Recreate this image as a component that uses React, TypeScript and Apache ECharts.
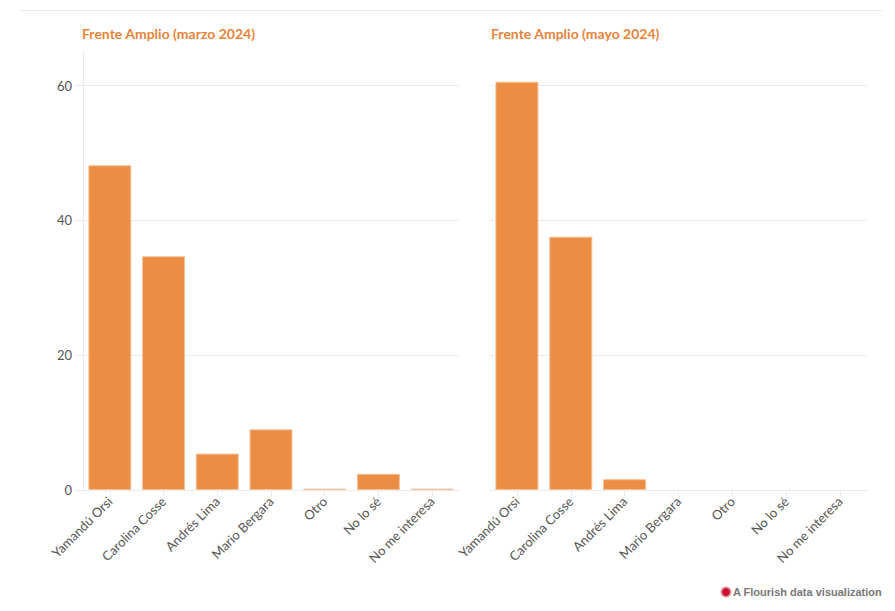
import React, { useEffect, useRef } from "react";
import * as echarts from "echarts";

const categories = ["Yamandú Orsi", "Carolina Cosse", "Andrés Lima", "Mario Bergara", "Otro", "No lo sé", "No me interesa"];
const marzoValues = [48.2, 34.7, 5.4, 9.0, 0.2, 2.4, 0.2];
const mayoValues = [60.6, 37.6, 1.6, 0, 0, 0, 0];
const titles = ["Frente Amplio (marzo 2024)", "Frente Amplio (mayo 2024)"];
const yTicks = [0, 20, 40, 60];

const BAR = "#eb8e43";
const GRID = "#ebebeb";
const FONT = "Lato, 'Noto Sans', sans-serif";

export default function App() {
  const ref = useRef<HTMLDivElement>(null);
  useEffect(() => {
    if (!ref.current) return;
    const chart = echarts.init(ref.current, null, { renderer: "svg" });
    const grids = [
      { left: 83, top: 52, width: 376, height: 438 },
      { left: 490, top: 52, width: 377, height: 438 },
    ];
    const xAxis = grids.map((_, i) => ({
      type: "category",
      gridIndex: i,
      data: categories,
      axisLine: { show: true, lineStyle: { color: GRID, width: 1 } },
      axisTick: { show: true, alignWithLabel: true, length: 6, lineStyle: { color: GRID } },
      axisLabel: { rotate: 45, color: "#555", fontSize: 13, fontFamily: FONT, margin: 9, interval: 0 },
    }));
    const yAxis = grids.map((_, i) => ({
      type: "value",
      gridIndex: i,
      min: 0,
      max: 65,
      interval: 20,
      axisLine: { show: i === 0, lineStyle: { color: GRID, width: 1 } },
      axisTick: { show: i === 0, length: 8, lineStyle: { color: GRID }, customValues: yTicks },
      axisLabel: { show: i === 0, color: "#555", fontSize: 13, fontFamily: FONT, margin: 11, customValues: yTicks },
      splitLine: { show: true, lineStyle: { color: GRID, width: 1 } },
    }));
    const data = [marzoValues, mayoValues];
    chart.setOption({
      animation: false,
      title: titles.map((t, i) => ({
        text: t,
        left: i === 0 ? 82 : 491,
        top: 26,
        padding: 0,
        textStyle: { color: "#e9843a", fontSize: 14, fontWeight: "bold", fontFamily: FONT },
      })),
      grid: grids,
      xAxis,
      yAxis,
      series: data.map((d, i) => ({
        type: "bar",
        xAxisIndex: i,
        yAxisIndex: i,
        data: d.map((v) => (v === 0 ? null : v)),
        barCategoryGap: "20%",
        itemStyle: { color: BAR, borderColor: "#f5c299", borderWidth: 1 },
      })),
      graphic: [
        { type: "line", shape: { x1: 20, y1: 10.5, x2: 882, y2: 10.5 }, style: { stroke: "#ececec", lineWidth: 1 } },
        { type: "circle", shape: { cx: 726, cy: 592, r: 4 }, style: { fill: "#c8102e" } },
        { type: "ring", shape: { cx: 726, cy: 592, r: 5.5, r0: 4 }, style: { fill: "rgba(200,16,46,0.45)" } },
        {
          type: "text",
          x: 733,
          y: 592,
          style: { text: "A Flourish data visualization", fill: "#777", font: "bold 11px 'Liberation Sans', Arial, sans-serif", verticalAlign: "middle" },
        },
      ],
    });
    return () => chart.dispose();
  }, []);
  return <div ref={ref} style={{ position: "fixed", left: 0, top: 0, width: 895, height: 611, background: "#fff" }} />;
}
